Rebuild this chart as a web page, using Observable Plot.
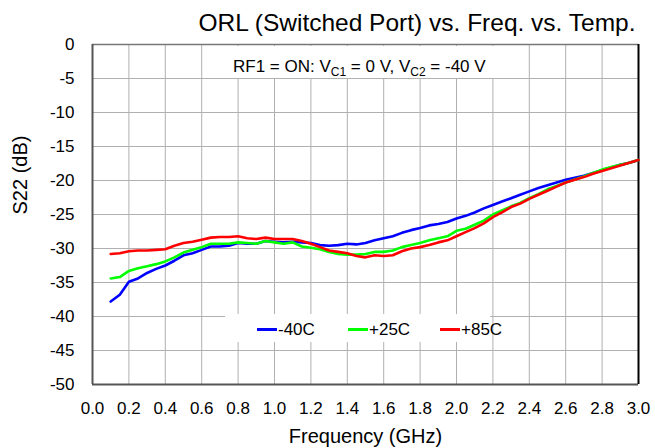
<!DOCTYPE html>
<html>
<head>
<meta charset="utf-8">
<script src="https://cdn.jsdelivr.net/npm/d3@7"></script>
<script src="https://cdn.jsdelivr.net/npm/@observablehq/plot@0.6"></script>
<style>
  html, body { margin: 0; padding: 0; background: #fff; }
  #wrap { position: relative; width: 655px; height: 448px; font-family: "Liberation Sans", Arial, sans-serif; color: #000; }
  #title { position: absolute; left: 0; top: 8px; width: 655px; text-align: center; font-size: 24.5px; padding-left: 179px; box-sizing: border-box; white-space: nowrap; line-height: 30px; }
  #note { position: absolute; left: 225px; top: 46px; width: 278px; height: 32px; background: #fff; font-size: 17px; white-space: nowrap; box-sizing: border-box; padding-left: 8px; padding-top: 11px; line-height: 20px; }
  #note sub { font-size: 12px; vertical-align: -4px; line-height: 0; }
  #legend { position: absolute; left: 225px; top: 314px; width: 265px; height: 28px; background: #fff; font-size: 17px; white-space: nowrap; }
  .item { position: absolute; top: 2px; height: 28px; line-height: 28px; }
  .swatch { display: inline-block; width: 20px; height: 3px; vertical-align: middle; margin-right: 1px; position: relative; top: -1px; }
  svg { display: block; }
</style>
</head>
<body>
<div id="wrap">
  <div id="chart"></div>
  <div id="title">ORL (Switched Port) vs. Freq. vs. Temp.</div>
  <div id="note">RF1 = ON: V<sub>C1</sub> = 0 V, V<sub>C2</sub> = -40 V</div>
  <div id="legend"></div>
</div>
<script>
// Frequency grid (GHz)
const freq = [0.10,0.15,0.20,0.25,0.30,0.35,0.40,0.45,0.50,0.55,0.60,0.65,0.70,0.75,0.80,0.85,0.90,0.95,1.00,1.05,1.10,1.15,1.20,1.25,1.30,1.35,1.40,1.45,1.50,1.55,1.60,1.65,1.70,1.75,1.80,1.85,1.90,1.95,2.00,2.05,2.10,2.15,2.20,2.25,2.30,2.35,2.40,2.45,2.50,2.55,2.60,2.65,2.70,2.75,2.80,2.85,2.90,2.95,3.00];

// S22 (dB) per temperature
const sM40 = [-37.8,-36.8,-34.9,-34.4,-33.6,-33.0,-32.5,-31.8,-31.0,-30.7,-30.2,-29.7,-29.7,-29.6,-29.2,-29.3,-29.3,-28.9,-29.0,-29.1,-29.0,-29.1,-29.2,-29.5,-29.6,-29.5,-29.3,-29.4,-29.2,-28.8,-28.5,-28.2,-27.7,-27.3,-27.0,-26.6,-26.4,-26.1,-25.6,-25.2,-24.7,-24.1,-23.6,-23.1,-22.6,-22.1,-21.6,-21.1,-20.7,-20.3,-19.9,-19.6,-19.3,-18.9,-18.5,-18.1,-17.7,-17.4,-17.0];
const sP25 = [-34.4,-34.2,-33.3,-32.9,-32.6,-32.3,-31.9,-31.3,-30.6,-30.2,-29.8,-29.3,-29.3,-29.3,-29.1,-29.2,-29.3,-28.9,-29.1,-29.3,-29.1,-29.7,-29.9,-30.1,-30.5,-30.8,-30.9,-30.9,-30.8,-30.5,-30.5,-30.3,-29.8,-29.5,-29.2,-28.8,-28.5,-28.2,-27.4,-27.1,-26.5,-25.9,-25.0,-24.4,-23.8,-23.3,-22.6,-22.0,-21.3,-20.8,-20.3,-19.85,-19.4,-18.9,-18.4,-18.0,-17.7,-17.4,-17.0];
const sP85 = [-30.8,-30.7,-30.4,-30.3,-30.3,-30.2,-30.1,-29.6,-29.2,-29.0,-28.7,-28.4,-28.3,-28.3,-28.2,-28.5,-28.6,-28.4,-28.6,-28.6,-28.6,-28.9,-29.3,-29.8,-30.3,-30.5,-30.7,-31.1,-31.3,-31.0,-31.1,-31.0,-30.4,-30.0,-29.8,-29.5,-29.1,-28.8,-28.2,-27.6,-27.0,-26.3,-25.4,-24.7,-23.9,-23.4,-22.7,-22.1,-21.5,-20.9,-20.3,-19.9,-19.5,-19.0,-18.6,-18.2,-17.8,-17.4,-17.0];

const seriesNames = ["-40C", "+25C", "+85C"];
const seriesColors = ["#0000ff", "#00ff00", "#ff0000"];
const seriesValues = [sM40, sP25, sP85];

const xTicks = [0,0.2,0.4,0.6,0.8,1.0,1.2,1.4,1.6,1.8,2.0,2.2,2.4,2.6,2.8,3.0];
const yTicks = [0,-5,-10,-15,-20,-25,-30,-35,-40,-45,-50];
const xLabel = "Frequency (GHz)";
const yLabel = "S22 (dB)";

const rows = [];
seriesNames.forEach((name, i) => {
  freq.forEach((f, j) => rows.push({series: name, f, s: seriesValues[i][j]}));
});

const chart = Plot.plot({
  width: 655,
  height: 448,
  marginLeft: 92,
  marginRight: 17,
  marginTop: 44,
  marginBottom: 64,
  style: {fontFamily: '"Liberation Sans", Arial, sans-serif', fontSize: "17px", color: "#000", background: "#fff", overflow: "visible"},
  x: {domain: [0, 3]},
  y: {domain: [-50, 0]},
  color: {domain: seriesNames, range: seriesColors},
  marks: [
    Plot.gridX(xTicks, {stroke: "#b0b0b0", strokeOpacity: 1, strokeWidth: 1}),
    Plot.gridY(yTicks, {stroke: "#b0b0b0", strokeOpacity: 1, strokeWidth: 1}),
    Plot.ruleY([0], {stroke: "#777", strokeWidth: 1.5}),
    Plot.ruleX([0], {stroke: "#555", strokeWidth: 2}),
    Plot.ruleY([-50], {stroke: "#555", strokeWidth: 2}),
    Plot.ruleX([3], {stroke: "#000", strokeWidth: 2}),
    Plot.line(rows, {x: "f", y: "s", z: "series", stroke: "series", strokeWidth: 2.6, strokeLinejoin: "round"}),
    Plot.axisX(xTicks, {tickSize: 0, tickPadding: 17, tickFormat: d3.format(".1f"), fontSize: 17, label: null}),
    Plot.axisY(yTicks, {tickSize: 0, tickPadding: 18, tickFormat: d => String(d), fontSize: 17, label: null}),
    Plot.text([xLabel], {frameAnchor: "bottom", dy: 52, fontSize: 20, lineAnchor: "middle"}),
    Plot.text([yLabel], {frameAnchor: "left", dx: -72, rotate: -90, fontSize: 20, lineAnchor: "middle"})
  ]
});
document.getElementById("chart").appendChild(chart);

// Legend built from the series arrays
const legend = document.getElementById("legend");
const offsets = [32, 123, 215];
seriesNames.forEach((name, i) => {
  const it = document.createElement("div");
  it.className = "item";
  it.style.left = offsets[i] + "px";
  it.innerHTML = `<span class="swatch" style="background:${seriesColors[i]}"></span>${name}`;
  legend.appendChild(it);
});
</script>
</body>
</html>
